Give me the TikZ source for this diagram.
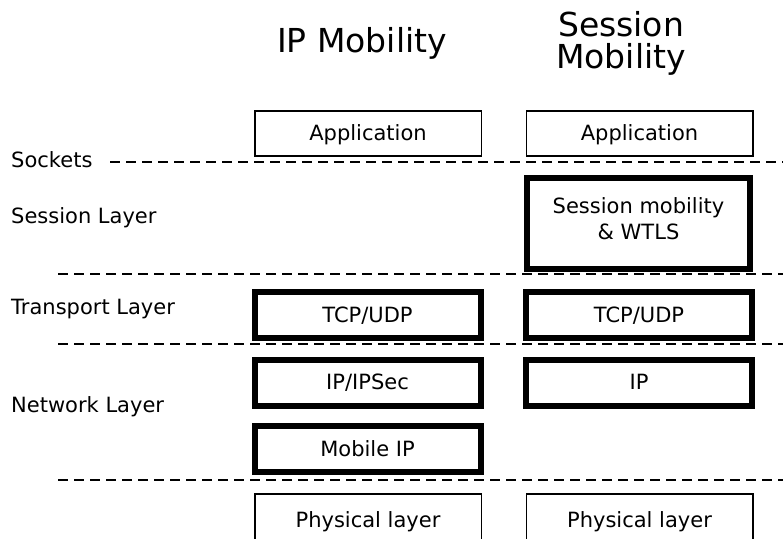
\documentclass[tikz,border=0pt]{standalone}
\usepackage{fontspec}
\setmainfont{DejaVu Sans}
\tikzset{
	thinbox/.style={draw, line width=1.5pt, inner sep=0pt, minimum width=226.5pt, minimum height=45pt, text height=1.4em, text depth=0pt},
	thickbox/.style={draw, line width=6pt, inner sep=0pt, minimum width=226pt, minimum height=46pt, text height=1.4em, text depth=0pt},
	sepline/.style={line width=2pt, dash pattern=on 10pt off 6pt},
	layername/.style={anchor=base west, inner sep=0pt},
	headline/.style={anchor=base, inner sep=0pt, font=\fontsize{33}{32}\selectfont},
}

\begin{document}
\begin{tikzpicture}[x=1pt, y=-1pt, font=\fontsize{21}{26}\selectfont]
				\useasboundingbox (0,0) rectangle (783,538);
				\clip (0,0) rectangle (783,538);
				% 标题
				\node[headline] (ipmob) at (362,52) {IP Mobility};
				\node[headline, align=center] (sesmob) at (621,68) {Session\\Mobility};
				% 层的名称
				\node[layername] (sockets) at (11,167) {Sockets};
				\node[layername] (sesl) at (11,223) {Session Layer};
				\node[layername] (trl) at (11,314) {Transport Layer};
				\node[layername] (netl) at (11,412) {Network Layer};
				% 分隔虚线
				\draw[sepline] (110,162) -- (783,162);
				\draw[sepline] (58,274) -- (783,274);
				\draw[sepline] (58,344) -- (783,344);
				\draw[sepline] (58,480) -- (783,480);
				% 左列 IP Mobility
				\node[thinbox] (appa) at (368,133.5) {Application};
				\node[thickbox] (tcpa) at (367.5,315) {TCP/UDP};
				\node[thickbox] (ipsec) at (367.5,382.5) {IP/IPSec};
				\node[thickbox] (mip) at (367.5,449) {Mobile IP};
				\node[thinbox, minimum height=52pt] (phya) at (368,520) {Physical layer};
				% 右列 Session Mobility
				\node[thinbox] (appb) at (639.5,133.5) {Application};
				\node[draw, line width=6pt, inner sep=0pt, minimum width=223pt, minimum height=91pt, align=center, text depth=10pt] (smw) at (638.5,223.5) {Session mobility\\\& WTLS};
				\node[thickbox] (tcpb) at (639,315) {TCP/UDP};
				\node[thickbox] (ipb) at (639,382.5) {IP};
				\node[thinbox, minimum height=52pt] (phyb) at (639.5,520) {Physical layer};
			\end{tikzpicture}
\end{document}
